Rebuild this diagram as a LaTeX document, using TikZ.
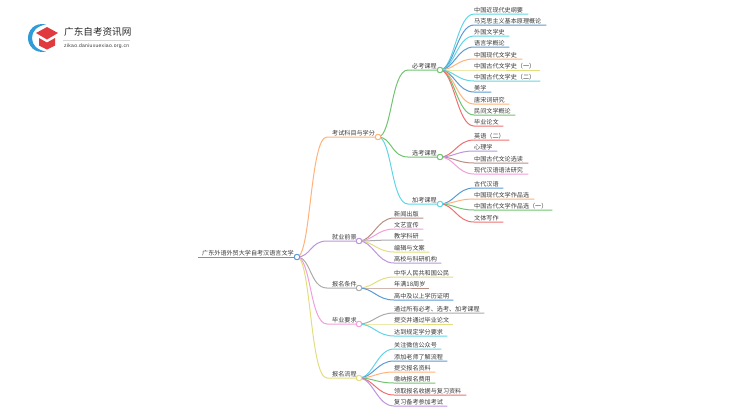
\documentclass[tikz,border=0pt]{standalone}
\usepackage{fontspec}
\setmainfont{Noto Sans CJK SC}
\setsansfont[LetterSpace=6]{Liberation Sans}
\usetikzlibrary{positioning}
\definecolor{lineblue}{HTML}{5B9BD5}
\definecolor{linecyan}{HTML}{62D5E4}
\definecolor{lineorange}{HTML}{FFB27A}
\definecolor{lineyellow}{HTML}{E2DE7E}
\definecolor{linered}{HTML}{EE7070}
\definecolor{linegreen}{HTML}{70C470}
\definecolor{linepurple}{HTML}{BC95DE}
\definecolor{linebrown}{HTML}{B58F85}
\definecolor{linepink}{HTML}{F29EDC}
\definecolor{linegray}{HTML}{ABABAB}
\definecolor{textgray}{HTML}{383838}
\definecolor{logored}{HTML}{E0393E}
\definecolor{logoblue}{HTML}{2F9BD8}
\tikzset{
    topic/.style={anchor=south west,inner xsep=0pt,inner ysep=.5pt,font=\fontsize{6.1pt}{6.1pt}\selectfont,text=textgray,text width=#1},
    joint/.style={circle,draw=#1,fill=white,line width=.9pt,inner sep=0pt,minimum size=5.4pt},
    branch/.style={line width=1pt,color=#1},
}
% curve from a joint to the start of a topic, then the line under the topic
\newcommand{\linktopic}[3]{\draw[branch=#3] (#1.center) .. controls +(14,0) and +(-17,0) .. (#2.south west) -- (#2.south east);}
\begin{document}
\begin{tikzpicture}[x=1pt,y=-1pt]
    \useasboundingbox (0,0) rectangle (750,410);
    % logo
    \fill[logoblue] (46,24.5) .. controls (35,22) and (28,30) .. (28,38) .. controls (28,46) and (35,54) .. (46,51.5)
        .. controls (37,50) and (32,45) .. (32,38) .. controls (32,31) and (37,26) .. (46,24.5) -- cycle;
    \fill[logored] (47,27) -- (58,33) -- (47,39.5) -- (36,33) -- cycle;
    \fill[logored] (39,38) -- (47,42.5) -- (55,38) -- (55,45.5) -- (47,49.5) -- (39,45.5) -- cycle;
    \node[anchor=west,inner sep=0pt,font=\fontsize{9.6pt}{9.6pt}\selectfont,text=black!85] (sitename) at (64,31.5) {广东自考资讯网};
    \node[anchor=west,inner sep=0pt,font=\sffamily\fontsize{5pt}{5pt}\selectfont,text=textgray] (siteurl) at (64,46) {zikao.daniuxuexiao.org.cn};
    \draw[linegray!50,line width=.5pt] (63,40) -- (130,40);
    % main topics
    \node[topic=96pt] (root) at (198,257) {\hspace{4pt}广东外语外贸大学自考汉语言文学};
    \node[topic=51pt] (exam) at (327,137) {\hspace{5pt}考试科目与学分};
    \node[topic=32pt] (job) at (327,241) {\hspace{5pt}就业前景};
    \node[topic=32pt] (apply) at (327,288) {\hspace{5pt}报名条件};
    \node[topic=32pt] (grad) at (327,324) {\hspace{5pt}毕业要求};
    \node[topic=32pt] (flow) at (327,378) {\hspace{5pt}报名流程};
    \node[topic=32pt] (must) at (408,70) {\hspace{4pt}必考课程};
    \node[topic=32pt] (opt) at (408,157) {\hspace{4pt}选考课程};
    \node[topic=32pt] (extra) at (408,204) {\hspace{4pt}加考课程};
    \node[joint=lineblue] (rootj) at (297,257) {};
    \node[joint=lineorange] (examj) at (378,137) {};
    \node[joint=linepurple] (jobj) at (359,241) {};
    \node[joint=linegray] (applyj) at (359,288) {};
    \node[joint=linepink] (gradj) at (359,324) {};
    \node[joint=lineyellow] (flowj) at (359,378) {};
    \node[joint=linegreen] (mustj) at (440,70) {};
    \node[joint=linegreen] (optj) at (440,157) {};
    \node[joint=linecyan] (extraj) at (440,204) {};
    % leaves: joint / row y / end x / colour / text
    \foreach \from/\ypos/\xend/\col/\txt/\id in {
        mustj/14/528/linecyan/中国近现代史纲要/a1, mustj/25/546/lineblue/马克思主义基本原理概论/a2,
        mustj/36/509/linecyan/外国文学史/a3, mustj/47/509/lineblue/语言学概论/a4,
        mustj/59/522/lineorange/中国现代文学史/a5, mustj/70/540/lineyellow/中国古代文学史（一）/a6,
        mustj/81/540/linecyan/中国古代文学史（二）/a7, mustj/92/491/lineblue/美学/a8,
        mustj/104/509/lineorange/唐宋词研究/a9, mustj/115/515/linegreen/民间文学概论/a10,
        mustj/126/503/linered/毕业论文/a11,
        optj/140/509/linered/英语（二）/b1, optj/151/497/linepurple/心理学/b2,
        optj/163/528/linebrown/中国古代文论选读/b3, optj/174/528/linepink/现代汉语语法研究/b4,
        extraj/188/503/lineblue/古代汉语/c1, extraj/199/534/lineorange/中国现代文学作品选/c2,
        extraj/210/552/linegreen/中国古代文学作品选（一）/c3, extraj/222/503/linered/文体写作/c4}
        {\node[topic=\xend pt-474pt] (\id) at (474,\ypos) {\txt};
         \linktopic{\from}{\id}{\col}}
    \foreach \from/\ypos/\xend/\col/\txt/\id in {
        jobj/218/423/linebrown/新闻出版/d1, jobj/229/423/linepink/文艺宣传/d2, jobj/240/423/linegray/教学科研/d3,
        jobj/252/429/lineyellow/编辑与文案/d4, jobj/263/441/linepurple/高校与科研机构/d5,
        applyj/277/453/lineyellow/中华人民共和国公民/e1, applyj/288/429/linebrown/年满18周岁/e2,
        applyj/300/453/lineblue/高中及以上学历证明/e3,
        gradj/313/484/linegray/通过所有必考、选考、加考课程/f1, gradj/324/453/lineyellow/提交并通过毕业论文/f2,
        gradj/336/447/linecyan/达到规定学分要求/f3,
        flowj/349/441/linecyan/关注微信公众号/g1, flowj/361/447/lineblue/添加老师了解流程/g2,
        flowj/372/435/lineorange/提交报名资料/g3, flowj/383/435/linegreen/缴纳报名费用/g4,
        flowj/395/466/linered/领取报名收据与复习资料/g5, flowj/406/447/linepurple/复习备考参加考试/g6}
        {\node[topic=\xend pt-394pt] (\id) at (394,\ypos) {\txt};
         \linktopic{\from}{\id}{\col}}
    % main branches
    \draw[branch=lineblue] (root.south west) -- (rootj.center);
    \linktopic{rootj}{exam}{lineorange}
    \linktopic{rootj}{job}{linepurple}
    \linktopic{rootj}{apply}{linegray}
    \linktopic{rootj}{grad}{linepink}
    \linktopic{rootj}{flow}{lineyellow}
    \linktopic{examj}{must}{linegreen}
    \linktopic{examj}{opt}{linegreen}
    \linktopic{examj}{extra}{linecyan}
    \foreach \jointname/\col in {rootj/lineblue,examj/lineorange,jobj/linepurple,applyj/linegray,gradj/linepink,flowj/lineyellow,mustj/linegreen,optj/linegreen,extraj/linecyan}
        \node[joint=\col] at (\jointname) {};
\end{tikzpicture}
\end{document}
